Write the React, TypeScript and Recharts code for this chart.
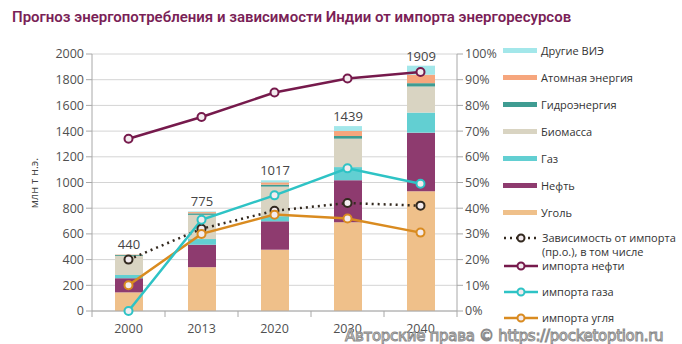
import React from "react";
import {
  ComposedChart,
  Bar,
  Line,
  XAxis,
  YAxis,
  CartesianGrid,
  LabelList,
} from "recharts";

const YEARS = ["2000", "2013", "2020", "2030", "2040"];
const TOTALS = [440, 775, 1017, 1439, 1909];

// млн т н.э.
const COAL = [145, 341, 477, 690, 932];
const OIL = [110, 175, 221, 328, 456];
const GAS = [25, 44, 40, 102, 156];
const BIOMASS = [148, 188, 230, 221, 203];
const HYDRO = [7, 12, 15, 21, 26];
const NUCLEAR = [4, 10, 18, 39, 66];
const OTHER_RES = [1, 5, 16, 38, 70];

// зависимость от импорта, %
const IMPORT_TOTAL = [20, 32, 39, 42, 41];
const IMPORT_OIL = [67, 75.5, 85, 90.5, 93];
const IMPORT_GAS = [0, 35.5, 45, 55.5, 49.5];
const IMPORT_COAL = [10, 30, 37.5, 36, 30.5];

const LEFT_TICKS = [0, 200, 400, 600, 800, 1000, 1200, 1400, 1600, 1800, 2000];
const RIGHT_TICKS = [0, 10, 20, 30, 40, 50, 60, 70, 80, 90, 100];

const C = {
  coal: "#EFC08A",
  oil: "#8E3B6F",
  gas: "#62CFD2",
  biomass: "#D9D4C2",
  hydro: "#3F9C92",
  nuclear: "#F6A67D",
  other: "#A3E7EA",
  impTotal: "#33291f",
  impOil: "#761A4C",
  impGas: "#2EC3C5",
  impCoal: "#D98B20",
};

const data = YEARS.map((year, i) => ({
  year,
  total: TOTALS[i],
  coal: COAL[i],
  oil: OIL[i],
  gas: GAS[i],
  biomass: BIOMASS[i],
  hydro: HYDRO[i],
  nuclear: NUCLEAR[i],
  other: OTHER_RES[i],
  impTotal: IMPORT_TOTAL[i],
  impOil: IMPORT_OIL[i],
  impGas: IMPORT_GAS[i],
  impCoal: IMPORT_COAL[i],
}));

const FONT = "'Open Sans', 'DejaVu Sans', sans-serif";

const BAND = 73;

function XTick({ x, y, payload, index }: any) {
  const half = BAND / 2;
  return (
    <g>
      <line x1={x - half} x2={x - half} y1={y - 8} y2={y - 2} stroke="#a8a8a8" />
      {index === YEARS.length - 1 && (
        <line x1={x + half} x2={x + half} y1={y - 8} y2={y - 2} stroke="#a8a8a8" />
      )}
      <text x={x} y={y + 14} textAnchor="middle" fill="#505050" fontSize={12.5} fontFamily={FONT}>
        {payload.value}
      </text>
    </g>
  );
}

const rowStyle: React.CSSProperties = {
  position: "absolute",
  left: 503,
  width: 179,
  display: "flex",
  whiteSpace: "nowrap",
};

function LegendBar({ color, label, top }: { color: string; label: string; top: number }) {
  return (
    <div style={{ ...rowStyle, top, alignItems: "center" }}>
      <div style={{ width: 34, height: 5, background: color, marginRight: 4, flex: "none" }} />
      <span>{label}</span>
    </div>
  );
}

function LegendLine({
  color,
  lines,
  top,
  dotted,
}: {
  color: string;
  lines: string[];
  top: number;
  dotted?: boolean;
}) {
  return (
    <div style={{ ...rowStyle, top, alignItems: "flex-start" }}>
      <svg width={36} height={14} style={{ marginRight: 3, flex: "none" }}>
        <line
          x1={1}
          x2={35}
          y1={7}
          y2={7}
          stroke={color}
          strokeWidth={2.5}
          strokeDasharray={dotted ? "2 4" : undefined}
        />
        <circle cx={18} cy={7} r={3.5} fill="#f2eaee" stroke={color} strokeWidth={2} />
      </svg>
      <div>
        {lines.map((l) => (
          <div key={l} style={{ height: 14, lineHeight: "14px" }}>
            {l}
          </div>
        ))}
      </div>
    </div>
  );
}

export default function App() {
  const dot = (color: string) => ({
    r: 4,
    fill: "#f3ecef",
    stroke: color,
    strokeWidth: 2,
    strokeDasharray: "none",
  });
  return (
    <div
      style={{
        position: "absolute",
        left: 0,
        top: 0,
        width: 682,
        height: 344,
        background: "#fff",
        fontFamily: FONT,
        overflow: "hidden",
      }}
    >
      <div
        style={{
          position: "absolute",
          left: 12,
          top: 8,
          color: "#7A1F57",
          fontSize: 15,
          fontWeight: 600,
          fontFamily: "Roboto, sans-serif",
          whiteSpace: "nowrap",
        }}
      >
        Прогноз энергопотребления и зависимости Индии от импорта энергоресурсов
      </div>

      <div
        style={{
          position: "absolute",
          left: 33,
          top: 183,
          transform: "translate(-50%, -50%) rotate(-90deg)",
          fontSize: 11,
          color: "#444",
          whiteSpace: "nowrap",
        }}
      >
        млн т н.э.
      </div>

      <ComposedChart
        width={682}
        height={344}
        data={data}
        margin={{ top: 54, right: 175, bottom: 8, left: 52 }}
        barCategoryGap={0}
      >
        <CartesianGrid vertical={false} stroke="#d4d4d4" yAxisId="left" />
        <XAxis
          dataKey="year"
          axisLine={{ stroke: "#a8a8a8" }}
          tickLine={false}
          tick={<XTick />}
          height={25}
          interval={0}
        />
        <YAxis
          yAxisId="left"
          domain={[0, 2000]}
          ticks={LEFT_TICKS}
          width={40}
          axisLine={{ stroke: "#a8a8a8" }}
          tickLine={{ stroke: "#a8a8a8" }}
          tickSize={6}
          tick={{ fill: "#505050", fontSize: 12.5, fontFamily: FONT }}
          interval={0}
        />
        <YAxis
          yAxisId="right"
          orientation="right"
          domain={[0, 100]}
          ticks={RIGHT_TICKS}
          width={50}
          axisLine={{ stroke: "#a8a8a8" }}
          tickLine={{ stroke: "#a8a8a8" }}
          tickSize={6}
          tickFormatter={(v: number) => `${v}%`}
          tick={{ fill: "#505050", fontSize: 12.5, fontFamily: FONT }}
          interval={0}
        />
        <Bar yAxisId="left" dataKey="coal" stackId="a" fill={C.coal} barSize={28} isAnimationActive={false} />
        <Bar yAxisId="left" dataKey="oil" stackId="a" fill={C.oil} barSize={28} isAnimationActive={false} />
        <Bar yAxisId="left" dataKey="gas" stackId="a" fill={C.gas} barSize={28} isAnimationActive={false} />
        <Bar yAxisId="left" dataKey="biomass" stackId="a" fill={C.biomass} barSize={28} isAnimationActive={false} />
        <Bar yAxisId="left" dataKey="hydro" stackId="a" fill={C.hydro} barSize={28} isAnimationActive={false} />
        <Bar yAxisId="left" dataKey="nuclear" stackId="a" fill={C.nuclear} barSize={28} isAnimationActive={false} />
        <Bar yAxisId="left" dataKey="other" stackId="a" fill={C.other} barSize={28} isAnimationActive={false}>
          <LabelList
            dataKey="total"
            position="top"
            offset={5}
            fill="#454545"
            fontSize={13}
            fontFamily={FONT}
          />
        </Bar>
        <Line
          yAxisId="right"
          dataKey="impTotal"
          stroke={C.impTotal}
          strokeWidth={2.5}
          strokeDasharray="2 4"
          dot={dot(C.impTotal)}
          isAnimationActive={false}
        />
        <Line
          yAxisId="right"
          dataKey="impCoal"
          stroke={C.impCoal}
          strokeWidth={2.5}
          dot={dot(C.impCoal)}
          isAnimationActive={false}
        />
        <Line
          yAxisId="right"
          dataKey="impGas"
          stroke={C.impGas}
          strokeWidth={2.5}
          dot={dot(C.impGas)}
          isAnimationActive={false}
        />
        <Line
          yAxisId="right"
          dataKey="impOil"
          stroke={C.impOil}
          strokeWidth={2.5}
          dot={dot(C.impOil)}
          isAnimationActive={false}
        />
      </ComposedChart>

      <div style={{ position: "absolute", left: 0, top: 0, width: 682, fontSize: 11, color: "#333" }}>
        <LegendBar color={C.other} label="Другие ВИЭ" top={43} />
        <LegendBar color={C.nuclear} label="Атомная энергия" top={70} />
        <LegendBar color={C.hydro} label="Гидроэнергия" top={97} />
        <LegendBar color={C.biomass} label="Биомасса" top={124} />
        <LegendBar color={C.gas} label="Газ" top={151} />
        <LegendBar color={C.oil} label="Нефть" top={178} />
        <LegendBar color={C.coal} label="Уголь" top={205} />
        <LegendLine
          color={C.impTotal}
          dotted
          top={231}
          lines={["Зависимость от импорта", "(пр.о.), в том числе"]}
        />
        <LegendLine color={C.impOil} lines={["импорта нефти"]} top={259} />
        <LegendLine color={C.impGas} lines={["импорта газа"]} top={285} />
        <LegendLine color={C.impCoal} lines={["импорта угля"]} top={311} />
      </div>

      <div
        style={{
          position: "absolute",
          left: 345,
          top: 330,
          fontSize: 15,
          lineHeight: "13px",
          fontFamily: "'DejaVu Sans', sans-serif",
          color: "#ffffff",
          WebkitTextStroke: "1px #8a8a8a",
          whiteSpace: "nowrap",
          letterSpacing: -0.3,
        }}
      >
        Авторские права © https://pocketoption.ru
      </div>
    </div>
  );
}
